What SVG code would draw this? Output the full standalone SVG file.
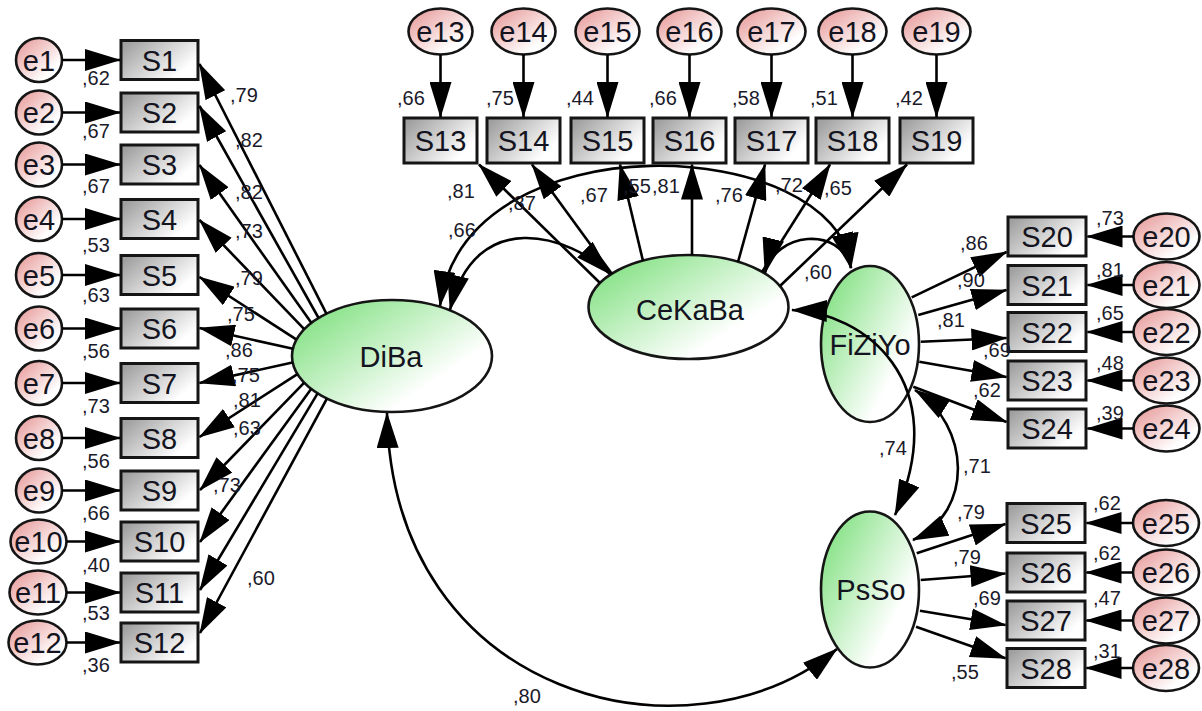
<svg xmlns="http://www.w3.org/2000/svg" width="1202" height="711" viewBox="0 0 1202 711">
<defs>
<linearGradient id="gBox" x1="0" y1="0.2" x2="1" y2="0.8"><stop offset="0" stop-color="#a0a0a0"/><stop offset="0.85" stop-color="#ffffff"/></linearGradient>
<linearGradient id="gErr" x1="0.05" y1="0.1" x2="0.9" y2="0.95"><stop offset="0" stop-color="#e89c9c"/><stop offset="0.8" stop-color="#ffffff"/></linearGradient>
<linearGradient id="gLat" x1="0.05" y1="0.15" x2="0.9" y2="0.85"><stop offset="0" stop-color="#84e184"/><stop offset="0.8" stop-color="#ffffff"/></linearGradient>
<marker id="ah" markerUnits="userSpaceOnUse" viewBox="0 0 36 22" markerWidth="36" markerHeight="22" refX="35" refY="11" orient="auto-start-reverse"><path d="M0,0 L36,11 L0,22 z" fill="#000"/></marker>
</defs>
<style>
.box{fill:url(#gBox);stroke:#151515;stroke-width:3}
.err{fill:url(#gErr);stroke:#151515;stroke-width:2.6}
.lat{fill:url(#gLat);stroke:#151515;stroke-width:2.6}
.t{font-family:"Liberation Sans",Arial,sans-serif;font-size:29px;fill:#141420;text-anchor:middle}
.l{font-family:"Liberation Sans",Arial,sans-serif;font-size:20px;fill:#1a1a2a}
.c{fill:none;stroke:#000;stroke-width:2.6;marker-end:url(#ah)}
.cv{fill:none;stroke:#000;stroke-width:2.6;marker-start:url(#ah);marker-end:url(#ah)}
</style>
<rect width="1202" height="711" fill="#fff"/>

<g id="DiBa"><ellipse class="lat" cx="392" cy="356" rx="100" ry="56"/><text class="t" x="391" y="367">DiBa</text></g>
<g id="CeKaBa"><ellipse class="lat" cx="688.5" cy="307" rx="100" ry="52"/><text class="t" x="690" y="320">CeKaBa</text></g>
<g id="FiZiYo"><ellipse class="lat" cx="870" cy="344" rx="49" ry="78"/><text class="t" x="870" y="355">FiZiYo</text></g>
<g id="PsSo"><ellipse class="lat" cx="870" cy="589.5" rx="49" ry="78"/><text class="t" x="871" y="600">PsSo</text></g>

<g id="S1"><rect class="box" x="121" y="40.5" width="77" height="39"/><text class="t" x="159.5" y="70.5">S1</text></g>
<g id="S2"><rect class="box" x="121" y="93" width="77" height="39"/><text class="t" x="159.5" y="123">S2</text></g>
<g id="S3"><rect class="box" x="121" y="145" width="77" height="39"/><text class="t" x="159.5" y="175">S3</text></g>
<g id="S4"><rect class="box" x="121" y="199.5" width="77" height="39"/><text class="t" x="159.5" y="229.5">S4</text></g>
<g id="S5"><rect class="box" x="121" y="255.5" width="77" height="39"/><text class="t" x="159.5" y="285.5">S5</text></g>
<g id="S6"><rect class="box" x="121" y="309" width="77" height="39"/><text class="t" x="159.5" y="339">S6</text></g>
<g id="S7"><rect class="box" x="121" y="363.5" width="77" height="39"/><text class="t" x="159.5" y="393.5">S7</text></g>
<g id="S8"><rect class="box" x="121" y="418.5" width="77" height="39"/><text class="t" x="159.5" y="448.5">S8</text></g>
<g id="S9"><rect class="box" x="121" y="471" width="77" height="39"/><text class="t" x="159.5" y="501">S9</text></g>
<g id="S10"><rect class="box" x="121" y="522" width="77" height="39"/><text class="t" x="159.5" y="552">S10</text></g>
<g id="S11"><rect class="box" x="121" y="573" width="77" height="39"/><text class="t" x="159.5" y="603">S11</text></g>
<g id="S12"><rect class="box" x="121" y="623" width="77" height="39"/><text class="t" x="159.5" y="653">S12</text></g>

<g id="e1"><ellipse class="err" cx="39" cy="60" rx="23" ry="22"/><text class="t" x="39" y="70.5">e1</text></g>
<g id="e2"><ellipse class="err" cx="39" cy="112.5" rx="23" ry="22"/><text class="t" x="39" y="123">e2</text></g>
<g id="e3"><ellipse class="err" cx="39" cy="164.5" rx="23" ry="22"/><text class="t" x="39" y="175">e3</text></g>
<g id="e4"><ellipse class="err" cx="39" cy="219" rx="23" ry="22"/><text class="t" x="39" y="229.5">e4</text></g>
<g id="e5"><ellipse class="err" cx="39" cy="275" rx="23" ry="22"/><text class="t" x="39" y="285.5">e5</text></g>
<g id="e6"><ellipse class="err" cx="39" cy="328.5" rx="23" ry="22"/><text class="t" x="39" y="339">e6</text></g>
<g id="e7"><ellipse class="err" cx="39" cy="383" rx="23" ry="22"/><text class="t" x="39" y="393.5">e7</text></g>
<g id="e8"><ellipse class="err" cx="39" cy="438" rx="23" ry="22"/><text class="t" x="39" y="448.5">e8</text></g>
<g id="e9"><ellipse class="err" cx="39" cy="490.5" rx="23" ry="22"/><text class="t" x="39" y="501">e9</text></g>
<g id="e10"><ellipse class="err" cx="38.5" cy="541.5" rx="28" ry="22"/><text class="t" x="38.5" y="552">e10</text></g>
<g id="e11"><ellipse class="err" cx="38" cy="592.5" rx="28.5" ry="22"/><text class="t" x="38" y="603">e11</text></g>
<g id="e12"><ellipse class="err" cx="37.5" cy="642.5" rx="29" ry="22"/><text class="t" x="37.5" y="653">e12</text></g>

<g id="S13"><rect class="box" x="404" y="118" width="73" height="45"/><text class="t" x="440.5" y="150.5">S13</text></g>
<g id="S14"><rect class="box" x="487" y="118" width="73" height="45"/><text class="t" x="523.5" y="150.5">S14</text></g>
<g id="S15"><rect class="box" x="571" y="118" width="73" height="45"/><text class="t" x="607.5" y="150.5">S15</text></g>
<g id="S16"><rect class="box" x="653" y="118" width="73" height="45"/><text class="t" x="689.5" y="150.5">S16</text></g>
<g id="S17"><rect class="box" x="735" y="118" width="73" height="45"/><text class="t" x="771.5" y="150.5">S17</text></g>
<g id="S18"><rect class="box" x="816" y="118" width="73" height="45"/><text class="t" x="852.5" y="150.5">S18</text></g>
<g id="S19"><rect class="box" x="900" y="118" width="73" height="45"/><text class="t" x="936.5" y="150.5">S19</text></g>

<g id="e13"><ellipse class="err" cx="440.5" cy="31.5" rx="32" ry="23"/><text class="t" x="440.5" y="42">e13</text></g>
<g id="e14"><ellipse class="err" cx="523.5" cy="31.5" rx="32" ry="23"/><text class="t" x="523.5" y="42">e14</text></g>
<g id="e15"><ellipse class="err" cx="607.5" cy="31.5" rx="32" ry="23"/><text class="t" x="607.5" y="42">e15</text></g>
<g id="e16"><ellipse class="err" cx="689.5" cy="31.5" rx="32" ry="23"/><text class="t" x="689.5" y="42">e16</text></g>
<g id="e17"><ellipse class="err" cx="771.5" cy="31.5" rx="34" ry="23"/><text class="t" x="771.5" y="42">e17</text></g>
<g id="e18"><ellipse class="err" cx="852.5" cy="31.5" rx="34" ry="23"/><text class="t" x="852.5" y="42">e18</text></g>
<g id="e19"><ellipse class="err" cx="936.5" cy="31.5" rx="34" ry="23"/><text class="t" x="936.5" y="42">e19</text></g>

<g id="S20"><rect class="box" x="1008" y="217" width="78" height="39"/><text class="t" x="1047" y="247">S20</text></g>
<g id="S21"><rect class="box" x="1008" y="265.5" width="78" height="39"/><text class="t" x="1047" y="295.5">S21</text></g>
<g id="S22"><rect class="box" x="1008" y="312.5" width="78" height="39"/><text class="t" x="1047" y="342.5">S22</text></g>
<g id="S23"><rect class="box" x="1008" y="361" width="78" height="39"/><text class="t" x="1047" y="391">S23</text></g>
<g id="S24"><rect class="box" x="1008" y="409" width="78" height="39"/><text class="t" x="1047" y="439">S24</text></g>
<g id="S25"><rect class="box" x="1007" y="503.5" width="78" height="39"/><text class="t" x="1046" y="533.5">S25</text></g>
<g id="S26"><rect class="box" x="1007" y="553" width="78" height="39"/><text class="t" x="1046" y="583">S26</text></g>
<g id="S27"><rect class="box" x="1007" y="601" width="78" height="39"/><text class="t" x="1046" y="631">S27</text></g>
<g id="S28"><rect class="box" x="1007" y="648.5" width="78" height="39"/><text class="t" x="1046" y="678.5">S28</text></g>

<g id="e20"><ellipse class="err" cx="1166.5" cy="236.5" rx="33" ry="23"/><text class="t" x="1166.5" y="247">e20</text></g>
<g id="e21"><ellipse class="err" cx="1166.5" cy="285" rx="33" ry="23"/><text class="t" x="1166.5" y="295.5">e21</text></g>
<g id="e22"><ellipse class="err" cx="1166.5" cy="332" rx="33" ry="23"/><text class="t" x="1166.5" y="342.5">e22</text></g>
<g id="e23"><ellipse class="err" cx="1166.5" cy="380.5" rx="33" ry="23"/><text class="t" x="1166.5" y="391">e23</text></g>
<g id="e24"><ellipse class="err" cx="1166.5" cy="428.5" rx="33" ry="23"/><text class="t" x="1166.5" y="439">e24</text></g>
<g id="e25"><ellipse class="err" cx="1166" cy="523" rx="33" ry="23"/><text class="t" x="1166" y="533.5">e25</text></g>
<g id="e26"><ellipse class="err" cx="1166" cy="572.5" rx="33" ry="23"/><text class="t" x="1166" y="583">e26</text></g>
<g id="e27"><ellipse class="err" cx="1166" cy="620.5" rx="33" ry="23"/><text class="t" x="1166" y="631">e27</text></g>
<g id="e28"><ellipse class="err" cx="1166" cy="668" rx="33" ry="23"/><text class="t" x="1166" y="678.5">e28</text></g>

<g id="connectors">
<path class="c" d="M62,60 L120,60"/>
<path class="c" d="M62,112.5 L120,112.5"/>
<path class="c" d="M62,164.5 L120,164.5"/>
<path class="c" d="M62,219 L120,219"/>
<path class="c" d="M62,275 L120,275"/>
<path class="c" d="M62,328.5 L120,328.5"/>
<path class="c" d="M62,383 L120,383"/>
<path class="c" d="M62,438 L120,438"/>
<path class="c" d="M62,490.5 L120,490.5"/>
<path class="c" d="M66.5,541.5 L120,541.5"/>
<path class="c" d="M66.5,592.5 L120,592.5"/>
<path class="c" d="M66.5,642.5 L120,642.5"/>
<path class="c" d="M440.5,54.5 L440.5,117"/>
<path class="c" d="M523.5,54.5 L523.5,117"/>
<path class="c" d="M607.5,54.5 L607.5,117"/>
<path class="c" d="M689.5,54.5 L689.5,117"/>
<path class="c" d="M771.5,54.5 L771.5,117"/>
<path class="c" d="M852.5,54.5 L852.5,117"/>
<path class="c" d="M936.5,54.5 L936.5,117"/>
<path class="c" d="M1133.5,236.5 L1087.5,236.5"/>
<path class="c" d="M1133.5,285 L1087.5,285"/>
<path class="c" d="M1133.5,332 L1087.5,332"/>
<path class="c" d="M1133.5,380.5 L1087.5,380.5"/>
<path class="c" d="M1133.5,428.5 L1087.5,428.5"/>
<path class="c" d="M1133,523 L1086.5,523"/>
<path class="c" d="M1133,572.5 L1086.5,572.5"/>
<path class="c" d="M1133,620.5 L1086.5,620.5"/>
<path class="c" d="M1133,668 L1086.5,668"/>
<path class="c" d="M326.4,313.7 L199.5,64"/>
<path class="c" d="M318.6,318 L199.5,106"/>
<path class="c" d="M311.3,322.8 L199.5,165"/>
<path class="c" d="M304.2,329.2 L199.5,220"/>
<path class="c" d="M296.2,339.4 L199.5,277"/>
<path class="c" d="M293,348.7 L199.5,328"/>
<path class="c" d="M292.5,362.5 L199.5,383"/>
<path class="c" d="M297.4,374.2 L199.5,437"/>
<path class="c" d="M304,382.8 L200,490"/>
<path class="c" d="M311.1,388.9 L200,542"/>
<path class="c" d="M317.6,393.4 L200,590"/>
<path class="c" d="M326.9,398.7 L200,633"/>
<path class="c" d="M600,283 L479,164.5"/>
<path class="c" d="M612,274 L532,164.5"/>
<path class="c" d="M643,261 L620,164.5"/>
<path class="c" d="M692,255 L692,164.5"/>
<path class="c" d="M738,262 L765,164.5"/>
<path class="c" d="M762,272 L830,164.5"/>
<path class="c" d="M780,286 L907,164.5"/>
<path class="c" d="M911.7,297.3 L1006.5,252"/>
<path class="c" d="M918.3,315 L1006.5,290"/>
<path class="c" d="M920.7,341.7 L1006.5,338"/>
<path class="c" d="M919.3,361.7 L1006.5,377"/>
<path class="c" d="M913.3,386.7 L1006.5,422"/>
<path class="c" d="M916.7,553.3 L1005.5,524"/>
<path class="c" d="M920.7,580 L1005.5,573.5"/>
<path class="c" d="M920,610.7 L1005.5,625"/>
<path class="c" d="M916,626.7 L1005.5,658.3"/>
<path class="cv" d="M450,310 C475,205 570,235 610,274"/>
<path class="cv" d="M440,306 C465,116 838,135 851,268"/>
<path class="cv" d="M387,413 C392,700 690,770 837,649"/>
<path class="cv" d="M765,273 C775,232 840,225 851,268"/>
<path class="cv" d="M792,310 C862,312 955,380 895,515"/>
<path class="cv" d="M915,390 C970,425 975,512 913,540"/>
</g>

<g id="labels">
<text class="l" x="82" y="85">,62</text>
<text class="l" x="82" y="138">,67</text>
<text class="l" x="82" y="193">,67</text>
<text class="l" x="82" y="252">,53</text>
<text class="l" x="82" y="302">,63</text>
<text class="l" x="82" y="358">,56</text>
<text class="l" x="82" y="413">,73</text>
<text class="l" x="82" y="468">,56</text>
<text class="l" x="82" y="520">,66</text>
<text class="l" x="82" y="572">,40</text>
<text class="l" x="82" y="620">,53</text>
<text class="l" x="82" y="672">,36</text>
<text class="l" x="230" y="102">,79</text>
<text class="l" x="235" y="147">,82</text>
<text class="l" x="235" y="199">,82</text>
<text class="l" x="235" y="238">,73</text>
<text class="l" x="235" y="285">,79</text>
<text class="l" x="227" y="321">,75</text>
<text class="l" x="225" y="357">,86</text>
<text class="l" x="232" y="382">,75</text>
<text class="l" x="233" y="407">,81</text>
<text class="l" x="233" y="435">,63</text>
<text class="l" x="213" y="492">,73</text>
<text class="l" x="247" y="585">,60</text>
<text class="l" x="397" y="105">,66</text>
<text class="l" x="486" y="105">,75</text>
<text class="l" x="566" y="105">,44</text>
<text class="l" x="649" y="105">,66</text>
<text class="l" x="732" y="105">,58</text>
<text class="l" x="810" y="105">,51</text>
<text class="l" x="895" y="105">,42</text>
<text class="l" x="447" y="198">,81</text>
<text class="l" x="508" y="210">,87</text>
<text class="l" x="580" y="202">,67</text>
<text class="l" x="623" y="193">,55</text>
<text class="l" x="652" y="193">,81</text>
<text class="l" x="715" y="202">,76</text>
<text class="l" x="775" y="192">,72</text>
<text class="l" x="824" y="195">,65</text>
<text class="l" x="448" y="237">,66</text>
<text class="l" x="804" y="279">,60</text>
<text class="l" x="879" y="455">,74</text>
<text class="l" x="963" y="473">,71</text>
<text class="l" x="513" y="703">,80</text>
<text class="l" x="960" y="250">,86</text>
<text class="l" x="957" y="287">,90</text>
<text class="l" x="937" y="327">,81</text>
<text class="l" x="983" y="357">,69</text>
<text class="l" x="973" y="397">,62</text>
<text class="l" x="1096" y="225">,73</text>
<text class="l" x="1096" y="277">,81</text>
<text class="l" x="1096" y="320">,65</text>
<text class="l" x="1096" y="370">,48</text>
<text class="l" x="1096" y="420">,39</text>
<text class="l" x="957" y="519">,79</text>
<text class="l" x="953" y="564">,79</text>
<text class="l" x="973" y="605">,69</text>
<text class="l" x="951" y="679">,55</text>
<text class="l" x="1093" y="510">,62</text>
<text class="l" x="1093" y="560">,62</text>
<text class="l" x="1093" y="605">,47</text>
<text class="l" x="1093" y="658">,31</text>
</g>
</svg>
